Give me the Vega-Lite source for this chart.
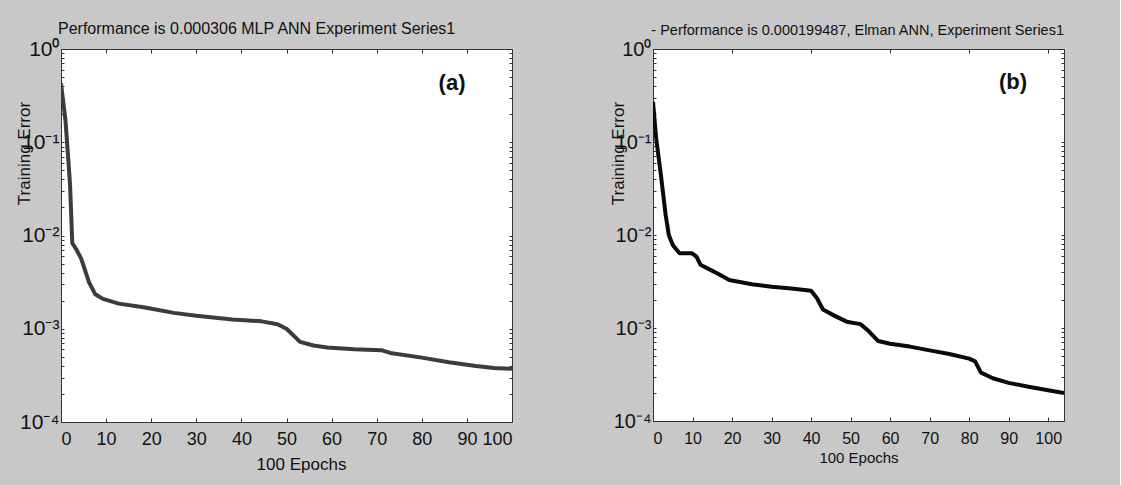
{
  "$schema": "https://vega.github.io/schema/vega-lite/v6.json",
  "background": "#c8c8c8",
  "padding": {"left": 14, "top": 20, "right": 55, "bottom": 26},
  "spacing": 95,
  "config": {
    "view": {"fill": "white", "stroke": "#333", "strokeWidth": 1},
    "font": "Liberation Sans",
    "axis": {"grid": false, "domainColor": "#333", "tickColor": "#333", "labelColor": "#111", "titleColor": "#111", "titleFontWeight": "normal", "labelFont": "Liberation Sans", "titleFont": "Liberation Sans", "labelOverlap": false},
    "title": {"fontWeight": "normal", "color": "#111", "font": "Liberation Sans"}
  },
  "datasets": {
    "mlp": [
      {"epoch": 0, "error": 0.427}, {"epoch": 1, "error": 0.17}, {"epoch": 2, "error": 0.0355}, {"epoch": 2.5, "error": 0.00832},
      {"epoch": 3.4, "error": 0.00708}, {"epoch": 4.5, "error": 0.00562}, {"epoch": 6.2, "error": 0.00316}, {"epoch": 7.6, "error": 0.00234},
      {"epoch": 9.3, "error": 0.00209}, {"epoch": 12.8, "error": 0.00186}, {"epoch": 18.3, "error": 0.0017}, {"epoch": 25, "error": 0.00148},
      {"epoch": 30, "error": 0.00138}, {"epoch": 38, "error": 0.00126}, {"epoch": 44.5, "error": 0.0012}, {"epoch": 48, "error": 0.00112},
      {"epoch": 50, "error": 0.001}, {"epoch": 51.5, "error": 0.000851}, {"epoch": 53, "error": 0.000724}, {"epoch": 56, "error": 0.000661},
      {"epoch": 59, "error": 0.000631}, {"epoch": 65, "error": 0.000603}, {"epoch": 71, "error": 0.000589}, {"epoch": 73, "error": 0.00055},
      {"epoch": 80, "error": 0.00049}, {"epoch": 86, "error": 0.000437}, {"epoch": 92, "error": 0.000398}, {"epoch": 96, "error": 0.00038},
      {"epoch": 100, "error": 0.000372}
    ],
    "elman": [
      {"epoch": 0, "error": 0.269}, {"epoch": 0.8, "error": 0.1096}, {"epoch": 2, "error": 0.0442}, {"epoch": 3.2, "error": 0.0164},
      {"epoch": 4, "error": 0.01}, {"epoch": 5, "error": 0.00782}, {"epoch": 6.7, "error": 0.00635}, {"epoch": 9.9, "error": 0.00635},
      {"epoch": 11, "error": 0.00585}, {"epoch": 12, "error": 0.00479}, {"epoch": 15.4, "error": 0.00404}, {"epoch": 19.3, "error": 0.00328},
      {"epoch": 25, "error": 0.00295}, {"epoch": 30, "error": 0.00278}, {"epoch": 35, "error": 0.00266}, {"epoch": 40, "error": 0.00251},
      {"epoch": 41.5, "error": 0.00209}, {"epoch": 43, "error": 0.00158}, {"epoch": 46, "error": 0.00135}, {"epoch": 49, "error": 0.00117},
      {"epoch": 52.5, "error": 0.0011}, {"epoch": 54.5, "error": 0.000933}, {"epoch": 57, "error": 0.000724}, {"epoch": 60, "error": 0.000676},
      {"epoch": 65, "error": 0.000631}, {"epoch": 70, "error": 0.000575}, {"epoch": 75, "error": 0.000525}, {"epoch": 80, "error": 0.000468},
      {"epoch": 81.5, "error": 0.000437}, {"epoch": 83, "error": 0.000331}, {"epoch": 86, "error": 0.000288}, {"epoch": 90, "error": 0.000257},
      {"epoch": 95, "error": 0.000234}, {"epoch": 100, "error": 0.000214}, {"epoch": 104, "error": 0.0002}
    ]
  },
  "hconcat": [
    {
      "width": 451,
      "height": 373,
      "title": {"text": "Performance is 0.000306 MLP ANN Experiment Series1", "anchor": "start", "frame": "group", "fontSize": 16, "offset": 1, "dx": -3},
      "resolve": {"axis": {"x": "independent", "y": "independent"}},
      "layer": [
        {
          "data": {"name": "mlp"},
          "mark": {"type": "line", "color": "#3c3c3c", "strokeWidth": 4, "strokeJoin": "round", "clip": true},
          "encoding": {
            "x": {"field": "epoch", "type": "quantitative", "scale": {"domain": [0, 100], "nice": false, "zero": false},
              "axis": {"values": [0, 10, 20, 30, 40, 50, 60, 70, 80, 90, 100], "tickSize": -4, "labelPadding": 12, "labelFontSize": 18, "title": "100 Epochs", "titleFontSize": 17, "titlePadding": 8, "titleX": 240}},
            "y": {"field": "error", "type": "quantitative", "scale": {"type": "log", "domain": [0.0001, 1], "nice": false},
              "axis": {"values": [0.0001, 0.0002, 0.0003, 0.0004, 0.0005, 0.0006, 0.0007, 0.0008, 0.0009, 0.001, 0.002, 0.003, 0.004, 0.005, 0.006, 0.007, 0.008, 0.009, 0.01, 0.02, 0.03, 0.04, 0.05, 0.06, 0.07, 0.08, 0.09, 0.1, 0.2, 0.3, 0.4, 0.5, 0.6, 0.7, 0.8, 0.9, 1],
                "labelExpr": "datum.value == 1 ? '10⁰' : datum.value == 0.1 ? '10⁻¹' : datum.value == 0.01 ? '10⁻²' : datum.value == 0.001 ? '10⁻³' : datum.value == 0.0001 ? '10⁻⁴' : ''",
                "tickSize": -3, "labelPadding": 5, "labelFontSize": 21, "labelBaseline": "middle", "labelDy": 5,
                "title": "Training Error", "titleFontSize": 17, "titleAngle": -90, "titleAlign": "center", "titleBaseline": "middle", "titleX": -37, "titleY": 104}}
          }
        },
        {
          "data": {"values": [{}]},
          "mark": {"type": "text", "fontSize": 22, "fontWeight": "bold", "color": "#111", "align": "center", "baseline": "middle"},
          "encoding": {
            "x": {"datum": 86.7, "type": "quantitative", "axis": {"orient": "top", "labels": false, "title": null, "values": [0, 10, 20, 30, 40, 50, 60, 70, 80, 90, 100], "tickSize": -4}},
            "y": {"datum": 0.437, "type": "quantitative", "axis": {"orient": "right", "labels": false, "title": null, "values": [0.0001, 0.0002, 0.0003, 0.0004, 0.0005, 0.0006, 0.0007, 0.0008, 0.0009, 0.001, 0.002, 0.003, 0.004, 0.005, 0.006, 0.007, 0.008, 0.009, 0.01, 0.02, 0.03, 0.04, 0.05, 0.06, 0.07, 0.08, 0.09, 0.1, 0.2, 0.3, 0.4, 0.5, 0.6, 0.7, 0.8, 0.9, 1], "tickSize": -3}},
            "text": {"value": "(a)"}
          }
        }
      ]
    },
    {
      "width": 411,
      "height": 372,
      "title": {"text": "-  Performance is 0.000199487, Elman ANN, Experiment Series1", "anchor": "end", "frame": "group", "fontSize": 14.5, "offset": 1},
      "resolve": {"axis": {"x": "independent", "y": "independent"}},
      "layer": [
        {
          "data": {"name": "elman"},
          "mark": {"type": "line", "color": "#0a0a0a", "strokeWidth": 4, "strokeJoin": "round", "clip": true},
          "encoding": {
            "x": {"field": "epoch", "type": "quantitative", "scale": {"domain": [0, 104], "nice": false, "zero": false},
              "axis": {"values": [0, 10, 20, 30, 40, 50, 60, 70, 80, 90, 100], "tickSize": -4, "labelPadding": 13, "labelFontSize": 16, "title": "100 Epochs", "titleFontSize": 15, "titlePadding": 4}},
            "y": {"field": "error", "type": "quantitative", "scale": {"type": "log", "domain": [0.0001, 1], "nice": false},
              "axis": {"values": [0.0001, 0.0002, 0.0003, 0.0004, 0.0005, 0.0006, 0.0007, 0.0008, 0.0009, 0.001, 0.002, 0.003, 0.004, 0.005, 0.006, 0.007, 0.008, 0.009, 0.01, 0.02, 0.03, 0.04, 0.05, 0.06, 0.07, 0.08, 0.09, 0.1, 0.2, 0.3, 0.4, 0.5, 0.6, 0.7, 0.8, 0.9, 1],
                "labelExpr": "datum.value == 1 ? '10⁰' : datum.value == 0.1 ? '10⁻¹' : datum.value == 0.01 ? '10⁻²' : datum.value == 0.001 ? '10⁻³' : datum.value == 0.0001 ? '10⁻⁴' : ''",
                "tickSize": -3, "labelPadding": 5, "labelFontSize": 20, "labelBaseline": "middle", "labelDy": 5,
                "title": "Training Error", "titleFontSize": 17, "titleAngle": -90, "titleAlign": "center", "titleBaseline": "middle", "titleX": -35, "titleY": 104}}
          }
        },
        {
          "data": {"values": [{}]},
          "mark": {"type": "text", "fontSize": 22, "fontWeight": "bold", "color": "#111", "align": "center", "baseline": "middle"},
          "encoding": {
            "x": {"datum": 91.1, "type": "quantitative", "axis": {"orient": "top", "labels": false, "title": null, "values": [0, 20, 40, 60, 80, 100], "tickSize": -4}},
            "y": {"datum": 0.437, "type": "quantitative", "axis": {"orient": "right", "labels": false, "title": null, "values": [0.0001, 0.0002, 0.0003, 0.0004, 0.0005, 0.0006, 0.0007, 0.0008, 0.0009, 0.001, 0.002, 0.003, 0.004, 0.005, 0.006, 0.007, 0.008, 0.009, 0.01, 0.02, 0.03, 0.04, 0.05, 0.06, 0.07, 0.08, 0.09, 0.1, 0.2, 0.3, 0.4, 0.5, 0.6, 0.7, 0.8, 0.9, 1], "tickSize": -3}},
            "text": {"value": "(b)"}
          }
        }
      ]
    }
  ]
}
